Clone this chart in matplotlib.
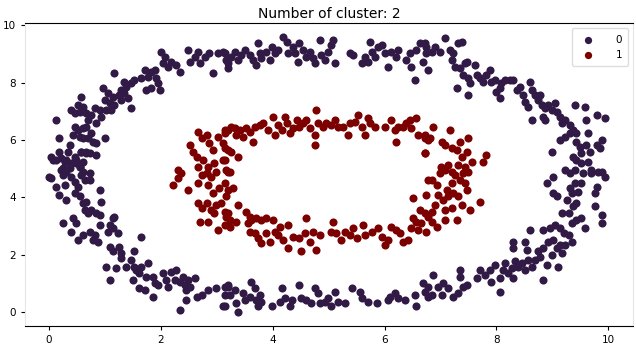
import numpy as np
import matplotlib
matplotlib.use("Agg")
import matplotlib.pyplot as plt

# points, (x, y) in data units
cluster0 = [
    # upper left arc
    (2.01, 9.08), (2.07, 8.91), (2.04, 8.68), (2.13, 8.56), (2.19, 8.74), (2.28, 8.62),
    (2.34, 8.39), (2.49, 9.14), (2.52, 8.74), (2.61, 8.91), (2.67, 9.08), (2.70, 8.68),
    (2.79, 8.91), (2.87, 9.03), (2.93, 8.33), (3.02, 9.03), (3.11, 9.08), (3.17, 8.79),
    (3.20, 8.50), (1.71, 8.44), (1.83, 8.39), (1.89, 8.44), (1.77, 8.21), (1.65, 8.15),
    (1.53, 8.10), (1.47, 7.98), (1.35, 8.04), (1.38, 7.86), (1.29, 7.75), (1.17, 8.33),
    (1.26, 7.57), (1.35, 7.63), (1.41, 7.46), (1.29, 7.40), (1.15, 7.51), (1.06, 7.63),
    (0.97, 7.80), (1.00, 7.40), (1.09, 7.28), (1.17, 7.22), (1.11, 7.05), (1.03, 7.05),
    (0.91, 7.05), (0.94, 6.82), (0.85, 6.58), (0.76, 6.87), (0.82, 7.11), (1.47, 7.11),
    (1.74, 7.75), (1.83, 7.80), (1.95, 7.98), (1.98, 7.75), (1.92, 8.15), (0.58, 7.51),
    (0.61, 7.17), (0.52, 7.22), (0.55, 6.99), (0.46, 6.93), (0.40, 7.05), (0.67, 6.93),
    (0.70, 6.70), (0.67, 6.47), (0.61, 6.41), (0.52, 6.35), (0.46, 6.47), (0.43, 6.18),
    (0.55, 6.12), (0.61, 6.06), (0.70, 6.06), (0.76, 6.23), (0.79, 5.94), (0.85, 5.88),
    (1.00, 6.06), (0.85, 5.48), (0.73, 5.54), (0.67, 5.59), (0.58, 5.59), (0.46, 5.42),
    (0.37, 5.83), (0.34, 5.59), (0.19, 6.06), (0.13, 6.70), (0.04, 5.42), (0.13, 5.30),
    (0.22, 5.36), (0.28, 5.24), (0.40, 5.19), (0.49, 5.30), (0.55, 5.07), (0.61, 4.90),
    (0.31, 4.90), (0.25, 5.01), (0.08, 5.31), (0.22, 4.96), (0.31, 5.31), (0.37, 5.02),
    (0.49, 5.19), (0.55, 5.06), (0.61, 5.24), (0.67, 5.55), (0.58, 5.59), (0.19, 5.59),
    (0.73, 4.85), (0.01, 4.71),
    # lower left arc
    (0.04, 4.67), (0.13, 4.37), (0.25, 4.78), (0.28, 4.43), (0.19, 4.08), (0.31, 3.91),
    (0.40, 4.72), (0.46, 4.55), (0.52, 4.37), (0.58, 4.78), (0.64, 4.61), (0.73, 4.61),
    (0.46, 4.14), (0.55, 4.03), (0.61, 3.79), (0.67, 3.85), (0.64, 3.56), (0.70, 3.44),
    (0.76, 3.56), (0.85, 3.44), (0.91, 3.39), (0.94, 3.85), (0.91, 4.26), (0.43, 3.27),
    (0.49, 3.09), (0.25, 3.09), (0.40, 2.80), (0.52, 2.51), (0.61, 2.69), (0.73, 2.80),
    (0.82, 2.69), (0.79, 2.51), (0.88, 2.45), (0.91, 3.04), (1.06, 2.80), (1.09, 3.04),
    (1.15, 2.92), (1.17, 3.33), (1.23, 2.75), (1.15, 3.27), (1.09, 2.28), (1.15, 2.11),
    (1.26, 2.28), (1.29, 2.05), (1.29, 1.87), (1.38, 1.58), (1.20, 1.52), (1.03, 1.58),
    (1.09, 1.12), (1.53, 2.11), (1.47, 1.81), (1.53, 1.58), (1.56, 1.47), (1.65, 1.58),
    (1.77, 1.70), (1.62, 1.35), (1.50, 1.12), (1.65, 2.63), (1.62, 0.83), (1.71, 0.77),
    (1.74, 1.23), (1.86, 1.23), (1.89, 1.00), (1.95, 0.94), (1.86, 0.53), (2.04, 1.35),
    (2.10, 1.12), (2.13, 0.88), (2.19, 1.41), (2.28, 1.47), (2.25, 1.12), (2.34, 1.06),
    (2.40, 1.23), (2.43, 0.94), (2.49, 1.12), (2.52, 0.88), (2.61, 1.17), (2.46, 0.77),
    (2.34, 0.07), (2.46, 0.42), (2.64, 0.53), (2.73, 0.59), (2.84, 0.77), (2.99, 0.83),
    (3.14, 0.88), (3.14, 0.59), (3.11, 0.19), (3.20, 0.88),
    # bottom
    (3.20, 0.94), (3.23, 0.59), (3.14, 0.19), (3.32, 0.77), (3.35, 0.30), (3.38, 0.01),
    (3.47, 0.65), (3.50, 0.42), (3.62, 1.06), (3.68, 0.83), (3.59, 0.53), (3.71, 0.42),
    (3.74, 0.19), (3.77, 0.59), (3.80, 0.36), (3.98, 0.19), (4.13, 0.36), (4.16, 0.83),
    (4.22, 0.48), (4.31, 0.19), (4.34, 0.42), (4.48, 0.94), (4.51, 0.48), (4.60, 0.42),
    (4.69, 0.30), (4.75, 0.83), (4.81, 0.65), (4.84, 0.30), (4.93, 0.36), (4.99, 0.48),
    (5.05, 0.19), (5.11, 0.71), (5.17, 0.36), (5.29, 0.30), (5.41, 0.83), (5.56, 0.71),
    (5.59, 0.48), (5.71, 0.36), (5.86, 0.30), (6.07, 0.42), (6.10, 0.53), (6.18, 0.65),
    (6.24, 0.48), (6.36, 0.42), (6.54, 0.59), (6.57, 0.19), (6.69, 1.00), (6.72, 0.71),
    (6.78, 0.53),
    # lower right arc
    (6.78, 0.88), (6.84, 0.59), (6.87, 1.29), (6.96, 0.88), (7.02, 0.59), (7.05, 1.00),
    (7.14, 0.83), (7.23, 0.53), (7.32, 0.65), (7.35, 1.47), (7.35, 1.23), (7.41, 0.88),
    (7.47, 0.94), (7.65, 1.17), (7.71, 1.47), (7.79, 1.29), (7.88, 1.47), (7.91, 1.06),
    (7.97, 1.64), (8.06, 1.17), (8.06, 0.71), (8.12, 1.47), (8.15, 1.70), (8.21, 1.35),
    (8.27, 1.52), (8.30, 1.17), (8.33, 1.76), (8.39, 1.58), (8.45, 1.70), (8.51, 1.47),
    (8.57, 1.81), (8.63, 1.58), (8.69, 1.81), (8.78, 1.93), (8.84, 1.12), (8.75, 2.11),
    (8.84, 2.22), (8.90, 1.64), (8.93, 2.45), (9.02, 2.51), (9.08, 2.22), (9.11, 1.58),
    (9.14, 2.34), (8.99, 1.99), (9.17, 2.05), (9.23, 2.34), (9.29, 2.69), (9.35, 2.45),
    (9.20, 2.75), (9.14, 2.92), (9.05, 3.04), (8.96, 2.92), (8.84, 2.86), (8.60, 2.86),
    (8.30, 2.45), (8.30, 2.22), (8.51, 2.45), (8.54, 2.16), (9.35, 3.09), (9.43, 3.21),
    (9.52, 3.27), (9.58, 2.92), (9.17, 3.44), (9.29, 3.44), (9.37, 3.68), (9.43, 3.79),
    (9.26, 3.91), (9.35, 4.14), (9.46, 4.20), (9.52, 4.49), (9.40, 4.49), (9.31, 4.32),
    (9.02, 4.14), (9.08, 4.03), (8.90, 4.49), (9.02, 4.72), (9.31, 4.84), (9.55, 4.84),
    (9.70, 4.84), (9.82, 4.90), (9.94, 4.72), (9.79, 4.37), (9.76, 4.14), (9.76, 3.68),
    (9.88, 3.39), (9.88, 3.09),
    # upper right arc
    (6.72, 9.38), (6.75, 9.03), (6.84, 9.08), (6.90, 9.26), (6.99, 9.08), (7.08, 9.55),
    (7.17, 9.14), (7.23, 9.03), (7.20, 8.79), (7.26, 8.56), (7.32, 9.38), (7.38, 9.43),
    (7.35, 8.50), (7.44, 8.68), (7.47, 8.74), (7.41, 8.27), (7.50, 8.15), (7.53, 7.98),
    (7.62, 8.62), (7.65, 8.27), (7.70, 8.15), (7.76, 8.04), (7.82, 8.27), (7.88, 8.44),
    (7.91, 8.04), (7.97, 8.10), (8.00, 7.69), (8.06, 7.80), (8.09, 7.98), (8.15, 8.10),
    (8.24, 8.10), (8.30, 8.10), (8.36, 7.75), (8.42, 7.86), (8.48, 7.57), (8.51, 7.34),
    (8.57, 7.17), (8.60, 8.04), (8.63, 7.75), (8.69, 7.57), (8.75, 7.40), (8.78, 7.57),
    (8.81, 7.22), (8.87, 7.11), (8.93, 7.22), (8.84, 6.82), (8.87, 6.70), (8.99, 7.05),
    (9.05, 7.28), (9.08, 6.99), (9.14, 6.82), (9.17, 6.58), (9.23, 6.70), (9.31, 6.53),
    (9.37, 6.35), (9.43, 6.23), (9.40, 7.22), (9.58, 7.17), (9.61, 6.70), (9.64, 6.23),
    (9.79, 6.87), (9.94, 6.76), (9.88, 6.00), (9.79, 5.83), (9.85, 5.71), (9.43, 5.94),
    (9.49, 5.77), (9.52, 5.54), (9.61, 5.83), (9.67, 5.59), (9.14, 6.00), (8.99, 5.59),
    (9.31, 6.23), (9.23, 6.12), (9.37, 5.42), (9.43, 5.30), (9.52, 5.19), (9.64, 5.24),
    (9.70, 4.95), (9.40, 4.95), (9.23, 4.95), (9.88, 4.90), (7.29, 7.80), (7.50, 7.57),
    (8.06, 7.46), (8.63, 6.70),
    # top
    (3.14, 9.03), (3.20, 8.68), (3.26, 8.91), (3.32, 9.08), (3.38, 8.79), (3.44, 8.97),
    (3.50, 9.14), (3.59, 8.97), (3.65, 8.79), (3.71, 8.62), (3.74, 9.38), (3.77, 9.03),
    (3.80, 8.85), (3.89, 9.08), (3.95, 8.79), (3.98, 9.26), (4.04, 9.03), (4.10, 9.14),
    (4.19, 9.61), (4.25, 9.43), (4.28, 9.03), (4.37, 9.26), (4.40, 9.03), (4.46, 8.74),
    (4.48, 9.38), (4.54, 9.14), (4.60, 8.91), (4.66, 9.08), (4.72, 8.85), (4.75, 8.68),
    (4.84, 9.49), (4.87, 8.97), (4.93, 8.79), (4.99, 9.08), (5.05, 9.32), (5.08, 9.49),
    (5.11, 8.68), (5.38, 9.03), (5.44, 8.97), (5.59, 8.68), (5.65, 8.91), (5.71, 8.74),
    (5.74, 9.43), (5.77, 9.08), (5.83, 8.91), (5.89, 9.26), (5.95, 9.32), (6.01, 9.03),
    (6.07, 8.56), (6.12, 9.08), (6.21, 8.91), (6.24, 9.14), (6.39, 8.79), (6.45, 9.03),
    (6.48, 8.56), (6.54, 8.10), (6.57, 9.14), (6.63, 9.38), (6.69, 8.74), (6.75, 9.26),
    (6.78, 8.44),
]

cluster1 = [
    # left side
    (2.52, 5.83), (2.58, 5.59), (2.67, 6.29), (2.73, 6.06), (2.82, 6.18), (2.87, 5.88),
    (2.93, 5.65), (3.02, 6.12), (3.11, 5.88), (3.14, 6.35), (3.20, 5.65), (2.64, 5.42),
    (2.76, 5.30), (2.84, 5.07), (2.96, 5.19), (2.67, 5.07), (2.31, 4.95), (3.11, 5.30),
    (3.17, 4.95), (2.22, 4.43), (2.31, 4.67), (2.37, 4.84), (2.49, 4.26), (2.67, 4.49),
    (2.73, 4.78), (2.82, 4.84), (2.90, 4.72), (2.99, 4.90), (2.84, 4.43), (2.93, 4.14),
    (3.05, 4.32), (3.14, 4.49), (3.20, 4.26), (2.67, 3.79), (2.73, 3.62), (2.82, 3.79),
    (2.90, 3.56), (2.99, 3.73), (3.08, 3.79), (3.14, 3.50), (3.17, 3.33), (2.70, 3.15),
    (2.84, 3.15), (3.02, 2.86), (2.96, 3.44),
    # top
    (3.14, 6.23), (3.20, 6.35), (3.26, 6.47), (3.32, 6.41), (3.35, 6.18), (3.41, 6.35),
    (3.47, 6.12), (3.53, 6.41), (3.59, 6.29), (3.65, 5.94), (3.68, 6.47), (3.77, 6.52),
    (3.83, 6.58), (3.92, 6.35), (4.01, 6.82), (4.04, 6.18), (4.10, 6.52), (4.16, 6.35),
    (4.22, 6.82), (4.25, 6.58), (4.31, 6.23), (4.37, 6.41), (4.43, 6.70), (4.48, 6.47),
    (4.54, 6.58), (4.60, 6.70), (4.66, 6.41), (4.75, 6.18), (4.78, 7.05), (4.81, 6.58),
    (4.90, 6.47), (4.96, 6.58), (5.05, 6.52), (5.11, 6.70), (5.17, 6.47), (5.26, 6.47),
    (5.35, 6.18), (5.38, 6.58), (5.47, 6.64), (5.53, 6.87), (5.59, 6.47), (5.65, 6.18),
    (5.71, 6.76), (5.74, 6.58), (5.83, 6.47), (6.01, 6.47), (6.12, 6.70), (6.18, 6.35),
    (6.24, 6.47), (6.21, 5.94), (6.33, 6.47), (6.39, 6.58), (6.45, 6.70), (6.48, 6.41),
    (6.57, 6.76), (6.60, 6.18), (6.72, 6.06), (6.72, 5.54), (6.78, 6.00), (4.75, 5.83),
    (3.14, 5.71), (3.26, 5.59), (3.38, 5.42), (3.23, 4.90), (3.14, 5.30),
    # right side
    (6.87, 6.47), (6.81, 6.06), (6.72, 6.18), (7.02, 5.94), (7.08, 5.83), (7.17, 6.35),
    (7.20, 5.71), (7.29, 5.65), (7.35, 5.94), (7.38, 5.42), (7.50, 6.06), (7.47, 5.59),
    (7.56, 5.24), (7.32, 5.13), (7.44, 5.07), (7.14, 5.13), (7.01, 5.07), (6.72, 5.54),
    (7.82, 5.48), (7.76, 5.24), (7.20, 4.90), (7.50, 4.90), (6.84, 4.61), (6.93, 4.43),
    (6.99, 4.84), (7.08, 4.96), (7.26, 4.78), (7.35, 4.61), (7.44, 4.49), (7.20, 4.49),
    (7.11, 4.26), (6.96, 4.08), (7.05, 3.91), (7.14, 4.03), (7.23, 4.14), (7.32, 4.03),
    (7.38, 3.73), (7.20, 3.62), (7.08, 3.56), (6.90, 3.73), (6.84, 3.50), (6.78, 3.33),
    (6.84, 3.15), (6.93, 2.98), (6.75, 2.80), (7.08, 3.21), (7.29, 3.21), (7.53, 3.56),
    (7.70, 3.85), (7.41, 4.84), (7.47, 4.26),
    # bottom
    (3.20, 4.90), (3.29, 4.32), (3.17, 4.03), (3.38, 3.73), (3.20, 3.44), (3.23, 3.21),
    (3.35, 3.15), (3.14, 3.04), (3.23, 2.98), (3.53, 3.50), (3.59, 3.33), (3.56, 3.09),
    (3.62, 3.21), (3.71, 3.27), (3.80, 3.21), (3.89, 3.27), (4.01, 3.21), (3.59, 2.80),
    (3.68, 2.75), (3.74, 2.57), (3.80, 2.40), (3.89, 2.75), (3.95, 2.45), (4.04, 2.80),
    (4.10, 2.69), (4.13, 2.98), (4.19, 2.51), (4.28, 3.04), (4.28, 2.22), (4.37, 2.63),
    (4.48, 2.57), (4.51, 2.11), (4.57, 2.75), (4.60, 3.27), (4.66, 2.45), (4.72, 2.80),
    (4.78, 2.16), (4.84, 2.69), (5.05, 2.80), (5.08, 3.15), (5.14, 2.75), (5.23, 2.51),
    (5.29, 2.80), (5.38, 2.69), (5.44, 2.92), (5.50, 2.57), (5.62, 3.04), (5.65, 2.69),
    (5.77, 2.80), (5.89, 2.92), (5.95, 2.63), (6.01, 2.34), (6.07, 2.51), (6.12, 2.98),
    (6.21, 2.86), (6.27, 2.75), (6.33, 2.45), (6.42, 2.51), (6.48, 2.92), (6.51, 3.27),
    (6.60, 2.86), (6.66, 3.09), (6.72, 3.44), (6.63, 3.56), (6.51, 3.97), (6.75, 4.08),
    (6.78, 4.61), (6.57, 3.15),
]

labels = ["0", "1"]
colors = ["#311a45", "#7d0000"]

fig = plt.figure(figsize=(6.36, 3.46), dpi=100)
ax = fig.add_axes([0.039, 0.058, 0.957, 0.875])

for pts, lab, col in zip([cluster0, cluster1], labels, colors):
    xy = np.array(pts)
    ax.scatter(xy[:, 0], xy[:, 1], s=34, c=col, label=lab, linewidths=0)

ax.set_xlim(-0.43, 10.45)
ax.set_ylim(-0.49, 10.08)
ax.set_xticks([0, 2, 4, 6, 8, 10])
ax.set_yticks([0, 2, 4, 6, 8, 10])
ax.tick_params(labelsize=7.5, length=3, width=0.8)

for side in ["left", "right"]:
    ax.spines[side].set_color("#e6e6e6")
for side in ["top", "bottom"]:
    ax.spines[side].set_color("black")

ax.set_title("Number of cluster: 2", fontsize=10, pad=4)
ax.legend(loc="upper right", fontsize=7.5, handletextpad=1.6, markerscale=0.9,
          borderpad=0.6, framealpha=1, edgecolor="#dddddd")

fig.savefig("out.png", dpi=100)
